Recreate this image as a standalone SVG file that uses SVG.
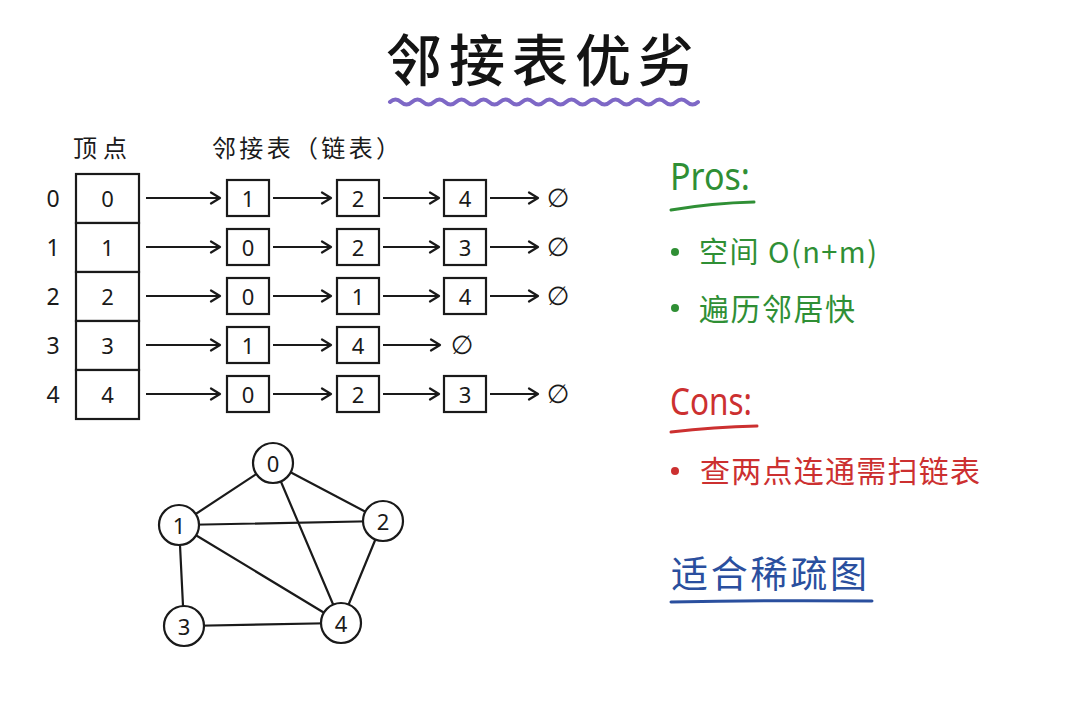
<svg xmlns="http://www.w3.org/2000/svg" width="1080" height="720" viewBox="0 0 1080 720">
<defs>
<marker id="ah" markerUnits="userSpaceOnUse" markerWidth="14" markerHeight="14" refX="11" refY="7" orient="auto">
<path d="M2,1.5 L11,7 L2,12.5" fill="none" stroke="#1a1a1a" stroke-width="2.2" stroke-linecap="round" stroke-linejoin="round"/>
</marker>
</defs>
<style>
.ln{stroke:#1a1a1a;stroke-width:2.2;fill:none;stroke-linecap:round}
.arr{stroke:#1a1a1a;stroke-width:2.2;fill:none;marker-end:url(#ah)}
.box{fill:#fff;stroke:#1a1a1a;stroke-width:2.2}
.num{font-family:"Noto Sans","DejaVu Sans",sans-serif;font-size:22px;fill:#1a1a1a;text-anchor:middle;dominant-baseline:central}
.lbl{font-family:"Noto Sans","DejaVu Sans",sans-serif;font-size:23px;fill:#1a1a1a;text-anchor:middle;dominant-baseline:central}
.nul{font-family:"DejaVu Sans",sans-serif;font-size:26px;fill:#1a1a1a;text-anchor:middle;dominant-baseline:central}
.cjk{font-family:"Noto Sans CJK SC","Noto Sans",sans-serif}
.hdr{font-size:24px;fill:#1a1a1a}
.green{fill:#2f8f35}
.red{fill:#cc3030}
.blue{fill:#2a4f9e}
</style>
<rect width="1080" height="720" fill="#ffffff"/>

<g id="title">
<text x="540" y="81" class="cjk" font-size="56" font-weight="500" fill="#141414" text-anchor="middle" textLength="308" lengthAdjust="spacing">邻接表优劣</text>
<path d="M390,102 q5.5,-5 11,0 t11,0 t11,0 t11,0 t11,0 t11,0 t11,0 t11,0 t11,0 t11,0 t11,0 t11,0 t11,0 t11,0 t11,0 t11,0 t11,0 t11,0 t11,0 t11,0 t11,0 t11,0 t11,0 t11,0 t11,0 t11,0 t11,0 t11,0" fill="none" stroke="#7e68c6" stroke-width="4" stroke-linecap="round"/>
</g>

<g id="headers">
<text x="100" y="157" class="cjk hdr" text-anchor="middle" textLength="54" lengthAdjust="spacing">顶点</text>
<text x="306" y="157" class="cjk hdr" text-anchor="middle" textLength="188" lengthAdjust="spacing">邻接表（链表）</text>
</g>

<g id="row-labels">
<text x="53" y="198" class="lbl">0</text>
<text x="53" y="247" class="lbl">1</text>
<text x="53" y="296" class="lbl">2</text>
<text x="53" y="345" class="lbl">3</text>
<text x="53" y="394" class="lbl">4</text>
</g>

<g id="vertex-array">
<g id="v0"><rect class="box" x="76" y="174" width="63" height="49"/><text x="107.5" y="198" class="num">0</text></g>
<g id="v1"><rect class="box" x="76" y="223" width="63" height="49"/><text x="107.5" y="247" class="num">1</text></g>
<g id="v2"><rect class="box" x="76" y="272" width="63" height="49"/><text x="107.5" y="296" class="num">2</text></g>
<g id="v3"><rect class="box" x="76" y="321" width="63" height="49"/><text x="107.5" y="345" class="num">3</text></g>
<g id="v4"><rect class="box" x="76" y="370" width="63" height="49"/><text x="107.5" y="394" class="num">4</text></g>
</g>

<g id="connectors">
<line class="arr" x1="146" y1="198" x2="220" y2="198"/>
<line class="arr" x1="273" y1="198" x2="331" y2="198"/>
<line class="arr" x1="383" y1="198" x2="439" y2="198"/>
<line class="arr" x1="490" y1="198" x2="538" y2="198"/>
<line class="arr" x1="146" y1="247" x2="220" y2="247"/>
<line class="arr" x1="273" y1="247" x2="331" y2="247"/>
<line class="arr" x1="383" y1="247" x2="439" y2="247"/>
<line class="arr" x1="490" y1="247" x2="538" y2="247"/>
<line class="arr" x1="146" y1="296" x2="220" y2="296"/>
<line class="arr" x1="273" y1="296" x2="331" y2="296"/>
<line class="arr" x1="383" y1="296" x2="439" y2="296"/>
<line class="arr" x1="490" y1="296" x2="538" y2="296"/>
<line class="arr" x1="146" y1="345" x2="220" y2="345"/>
<line class="arr" x1="273" y1="345" x2="331" y2="345"/>
<line class="arr" x1="383" y1="345" x2="440" y2="345"/>
<line class="arr" x1="146" y1="394" x2="220" y2="394"/>
<line class="arr" x1="273" y1="394" x2="331" y2="394"/>
<line class="arr" x1="383" y1="394" x2="439" y2="394"/>
<line class="arr" x1="490" y1="394" x2="538" y2="394"/>
<line class="ln" x1="273" y1="463" x2="179" y2="525"/>
<line class="ln" x1="273" y1="463" x2="383" y2="521"/>
<line class="ln" x1="273" y1="463" x2="341" y2="623"/>
<line class="ln" x1="179" y1="525" x2="383" y2="521"/>
<line class="ln" x1="179" y1="525" x2="341" y2="623"/>
<line class="ln" x1="179" y1="525" x2="184" y2="626"/>
<line class="ln" x1="383" y1="521" x2="341" y2="623"/>
<line class="ln" x1="184" y1="626" x2="341" y2="623"/>
</g>

<g id="list-row0">
<g id="n0a"><rect class="box" x="227" y="180" width="42" height="36"/><text x="248" y="198" class="num">1</text></g>
<g id="n0b"><rect class="box" x="337" y="180" width="42" height="36"/><text x="358" y="198" class="num">2</text></g>
<g id="n0c"><rect class="box" x="444" y="180" width="42" height="36"/><text x="465" y="198" class="num">4</text></g>
<text x="558" y="198" class="nul">∅</text>
</g>
<g id="list-row1">
<g id="n1a"><rect class="box" x="227" y="229" width="42" height="36"/><text x="248" y="247" class="num">0</text></g>
<g id="n1b"><rect class="box" x="337" y="229" width="42" height="36"/><text x="358" y="247" class="num">2</text></g>
<g id="n1c"><rect class="box" x="444" y="229" width="42" height="36"/><text x="465" y="247" class="num">3</text></g>
<text x="558" y="247" class="nul">∅</text>
</g>
<g id="list-row2">
<g id="n2a"><rect class="box" x="227" y="278" width="42" height="36"/><text x="248" y="296" class="num">0</text></g>
<g id="n2b"><rect class="box" x="337" y="278" width="42" height="36"/><text x="358" y="296" class="num">1</text></g>
<g id="n2c"><rect class="box" x="444" y="278" width="42" height="36"/><text x="465" y="296" class="num">4</text></g>
<text x="558" y="296" class="nul">∅</text>
</g>
<g id="list-row3">
<g id="n3a"><rect class="box" x="227" y="327" width="42" height="36"/><text x="248" y="345" class="num">1</text></g>
<g id="n3b"><rect class="box" x="337" y="327" width="42" height="36"/><text x="358" y="345" class="num">4</text></g>
<text x="462" y="345" class="nul">∅</text>
</g>
<g id="list-row4">
<g id="n4a"><rect class="box" x="227" y="376" width="42" height="36"/><text x="248" y="394" class="num">0</text></g>
<g id="n4b"><rect class="box" x="337" y="376" width="42" height="36"/><text x="358" y="394" class="num">2</text></g>
<g id="n4c"><rect class="box" x="444" y="376" width="42" height="36"/><text x="465" y="394" class="num">3</text></g>
<text x="558" y="394" class="nul">∅</text>
</g>

<g id="g0"><circle class="box" cx="273" cy="463" r="20"/><text x="273" y="463" class="num">0</text></g>
<g id="g1"><circle class="box" cx="179" cy="525" r="20"/><text x="179" y="525" class="num">1</text></g>
<g id="g2"><circle class="box" cx="383" cy="521" r="20"/><text x="383" y="521" class="num">2</text></g>
<g id="g3"><circle class="box" cx="184" cy="626" r="20"/><text x="184" y="626" class="num">3</text></g>
<g id="g4"><circle class="box" cx="341" cy="623" r="20"/><text x="341" y="623" class="num">4</text></g>

<g id="pros">
<text x="670" y="190" font-family="Noto Sans, sans-serif" font-size="38" class="green" textLength="80" lengthAdjust="spacingAndGlyphs">Pros:</text>
<path d="M671,210 Q712,203 754,202" fill="none" stroke="#2f8f35" stroke-width="3" stroke-linecap="round"/>
<circle cx="675" cy="252" r="4" fill="#2f8f35"/>
<text x="699" y="263" class="cjk green" font-size="29" textLength="178" lengthAdjust="spacing">空间 O(n+m)</text>
<circle cx="675" cy="308" r="4" fill="#2f8f35"/>
<text x="699" y="320" class="cjk green" font-size="30" textLength="156" lengthAdjust="spacing">遍历邻居快</text>
</g>

<g id="cons">
<text x="670" y="415" font-family="Noto Sans, sans-serif" font-size="38" class="red" textLength="82" lengthAdjust="spacingAndGlyphs">Cons:</text>
<path d="M671,432 Q714,427 757,426" fill="none" stroke="#cc3030" stroke-width="3" stroke-linecap="round"/>
<circle cx="675" cy="471" r="4" fill="#cc3030"/>
<text x="700" y="482" class="cjk red" font-size="30" textLength="280" lengthAdjust="spacing">查两点连通需扫链表</text>
</g>

<g id="conclusion">
<text x="671" y="588" class="cjk blue" font-size="37" textLength="196" lengthAdjust="spacing">适合稀疏图</text>
<path d="M671,602 Q770,600 872,601" fill="none" stroke="#2a4f9e" stroke-width="3" stroke-linecap="round"/>
</g>
</svg>
